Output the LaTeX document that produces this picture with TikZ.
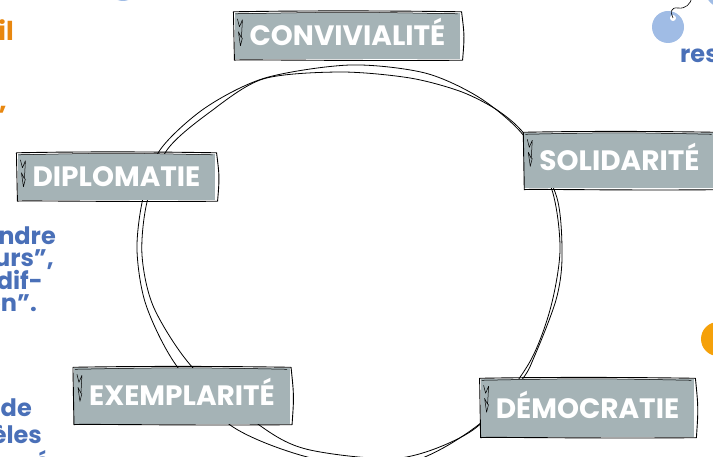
\documentclass[tikz,border=0pt]{standalone}
\usepackage{fontspec}
\setmainfont{Poppins}
\definecolor{tagGrey}{HTML}{A5B3B6}
\definecolor{textBlue}{HTML}{4A70B8}
\definecolor{dotBlue}{HTML}{A0BCE5}
\definecolor{textOrange}{HTML}{E8870F}
\definecolor{dotOrange}{HTML}{F5A10A}

% hand-drawn outline round a tag node
\newcommand{\sketchtag}[1]{%
  \draw[line width=0.9pt, line join=round]
    ([xshift=-1pt,yshift=1pt]#1.north west)
      .. controls ([yshift=3pt]#1.north) and ([yshift=1pt]#1.north east) .. ([xshift=1pt,yshift=1pt]#1.north east)
      .. controls ([xshift=4pt]#1.east) .. ([xshift=2pt,yshift=-1pt]#1.south east)
      .. controls ([yshift=-2pt]#1.south) and ([yshift=0pt]#1.south west) .. ([yshift=-1pt]#1.south west)
      -- cycle;
  \draw[line width=0.5pt] ([xshift=1pt,yshift=-1pt]#1.north west) .. controls ([yshift=1pt]#1.north) .. ([xshift=-3pt,yshift=-1pt]#1.north east);
  \draw[line width=0.5pt, line join=round] ([xshift=3pt,yshift=-6pt]#1.north west) -- ++(2pt,-8pt) -- ++(3pt,7pt) -- ++(-1pt,-18pt) -- ++(-3pt,6pt) -- ++(2pt,-14pt) -- ++(2pt,8pt);
}

\begin{document}
\begin{tikzpicture}[x=1pt, y=-1pt,
  tag/.style={rectangle, fill=tagGrey, text=white, font=\fontsize{28}{28}\selectfont\bfseries, inner xsep=15pt, inner ysep=13pt, text height=20pt, text depth=0pt},
  bluetext/.style={text=textBlue, font=\fontsize{24}{24}\selectfont\bfseries, inner sep=0pt},
  orangetext/.style={text=textOrange, font=\fontsize{26}{26}\selectfont\bfseries, inner sep=0pt},
  loop/.style={line width=0.8pt}]
\useasboundingbox (0,0) rectangle (713,457);
\clip (0,0) rectangle (713,457);

% Hand-drawn circle (two strokes)
\draw[loop] plot[smooth cycle] coordinates {(350,65) (425,73) (480,98) (524,136) (552,190) (560,250) (550,310) (528,365) (482,422) (410,462) (320,460) (233,427) (176,365) (146,305) (137,250) (143,198) (160,150) (205,108) (265,78)};
\draw[loop] plot[smooth cycle] coordinates {(340,72) (410,78) (462,92) (500,112) (528,139) (557,198) (562,258) (556,300) (535,355) (520,382) (470,432) (400,458) (310,450) (262,427) (193,368) (154,308) (142,255) (147,202) (167,150) (210,112) (263,79)};

% Tags round the circle
\node[tag] (conv) at (347.5,36) {CONVIVIALITÉ};
\node[tag, minimum height=55pt] (soli) at (619.5,161) {SOLIDARITÉ};
\node[tag] (dipl) at (116.5,177) {DIPLOMATIE};
\node[tag, minimum height=55pt] (exem) at (182,396) {EXEMPLARITÉ};
\node[tag, minimum height=57pt] (demo) at (587.5,408) {DÉMOCRATIE};
\sketchtag{conv}
\sketchtag{soli}
\sketchtag{dipl}
\sketchtag{exem}
\sketchtag{demo}

% Text cut by the left edge
\node[orangetext, anchor=base east] (ora1) at (14,41) {’il};
\node[orangetext, anchor=base east] (ora2) at (7,125) {”};
\node[bluetext, anchor=base east] (blu1) at (56,245) {ndre};
\node[bluetext, anchor=base east] (blu2) at (54,267) {urs”,};
\node[bluetext, anchor=base east] (blu3) at (43,290) {dif-};
\node[bluetext, anchor=base east] (blu4) at (37,312) {on”.};
\node[bluetext, anchor=base east] (blu5) at (32,417) {de};
\node[bluetext, anchor=base east] (blu6) at (42,443) {èles};
\node[bluetext, anchor=base east] (blu7) at (50,470) {é};
\node[bluetext, anchor=base west] (blu8) at (680,63) {res};

% Dots
\fill[dotBlue] (123,-14) circle (15);
\fill[dotBlue] (721,-8) circle (15);
\fill[dotBlue] (668,27) circle (16);
\fill[white] (673,18) circle (3);
\draw[line width=0.6pt] (673,18) .. controls (670,12) and (671,7) .. (678,8) .. controls (686,9) and (690,4) .. (692,-2);
\fill[dotOrange] (718,339) circle (17);
\end{tikzpicture}
\end{document}
